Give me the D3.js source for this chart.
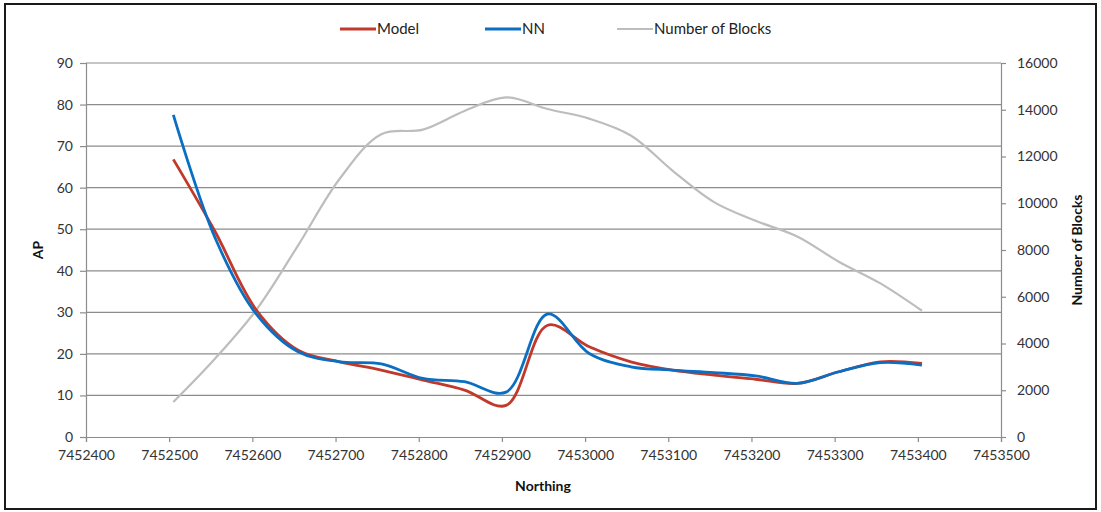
<!DOCTYPE html>
<html><head><meta charset="utf-8">
<script src="https://cdn.jsdelivr.net/npm/d3@7"></script>
<style>
html,body{margin:0;padding:0;background:#fff;}
svg text{font-family:Lato,"Open Sans",sans-serif;}
</style></head>
<body><svg id="chart" width="1101" height="512"></svg>
<script>
const northing = [7452505,7452555,7452605,7452655,7452705,7452755,7452805,7452855,7452905,7452955,7453005,7453055,7453105,7453155,7453205,7453255,7453305,7453355,7453405];
const modelAP = [66.8,49.5,30.5,20.9,18.1,16.1,13.7,11.3,7.6,26.9,21.7,18.1,16.1,14.9,13.9,12.9,15.7,18.1,17.7];
const nnAP    = [77.5,48.0,29.5,20.5,18.1,17.6,14.1,13.3,10.8,29.6,20.1,16.9,16.1,15.5,14.7,12.9,15.7,17.9,17.3];
const blocks  = [1500,3350,5450,8200,11050,12950,13150,13950,14530,14030,13620,12900,11400,10050,9250,8580,7500,6570,5400];
const xTicks = [7452400,7452500,7452600,7452700,7452800,7452900,7453000,7453100,7453200,7453300,7453400,7453500];
const apTicks = [0,10,20,30,40,50,60,70,80,90];
const blockTicks = [0,2000,4000,6000,8000,10000,12000,14000,16000];
const seriesNames = ["Model","NN","Number of Blocks"];
const seriesColors = ["#c0392b","#0a6fc2","#bdbdbd"];

const svg = d3.select("#chart");
const L = 86, R = 1001, T = 63, B = 437;
const x = d3.scaleLinear().domain([7452400,7453500]).range([L,R]);
const yL = d3.scaleLinear().domain([0,90]).range([B,T]);
const yR = d3.scaleLinear().domain([0,16000]).range([B,T]);

// outer border
svg.append("rect").attr("x",5).attr("y",4).attr("width",1091).attr("height",505)
  .attr("fill","#fff").attr("stroke","#1a1a1a").attr("stroke-width",2);

// gridlines
svg.append("g").selectAll("line").data(apTicks.filter(d=>d>0)).join("line")
  .attr("x1",L).attr("x2",R).attr("y1",d=>yL(d)).attr("y2",d=>yL(d))
  .attr("stroke","#8c8c8c").attr("stroke-width",1.2);

const tickColor = "#8c8c8c";
const labelColor = "#333";
// axes
const gx = svg.append("g").attr("transform",`translate(0,${B})`)
  .call(d3.axisBottom(x).tickValues(xTicks).tickFormat(d3.format("d")).tickSize(5).tickPadding(5));
const gl = svg.append("g").attr("transform",`translate(${L},0)`)
  .call(d3.axisLeft(yL).tickValues(apTicks).tickFormat(d3.format("d")).tickSize(6).tickPadding(7));
const gr = svg.append("g").attr("transform",`translate(${R},0)`)
  .call(d3.axisRight(yR).tickValues(blockTicks).tickFormat(d3.format("d")).tickSize(5).tickPadding(11));
[gx,gl,gr].forEach(g=>{
  g.selectAll("path").attr("stroke",tickColor).attr("stroke-width",1.2);
  g.selectAll("line").attr("stroke",tickColor).attr("stroke-width",1.2);
  g.selectAll("text").attr("fill",labelColor).style("font-size","14px").style("font-family","Lato,sans-serif");
});
gx.selectAll("text").attr("dy","0.9em");

// axis titles
svg.append("text").attr("x",543).attr("y",491).attr("text-anchor","middle")
  .style("font-size","14px").style("font-weight","bold").attr("fill","#111").text("Northing");
svg.append("text").attr("transform","translate(43,250) rotate(-90)").attr("text-anchor","middle")
  .style("font-size","14px").style("font-weight","bold").attr("fill","#111").text("AP");
svg.append("text").attr("transform","translate(1082,250) rotate(-90)").attr("text-anchor","middle")
  .style("font-size","14px").style("font-weight","bold").attr("fill","#111").text("Number of Blocks");

// lines
const curve = d3.curveCatmullRom.alpha(0.5);
const lineL = d3.line().x((d,i)=>x(northing[i])).y(d=>yL(d)).curve(curve);
const lineR = d3.line().x((d,i)=>x(northing[i])).y(d=>yR(d)).curve(curve);
svg.append("path").attr("d",lineR(blocks)).attr("fill","none").attr("stroke",seriesColors[2]).attr("stroke-width",2.2);
svg.append("path").attr("d",lineL(modelAP)).attr("fill","none").attr("stroke",seriesColors[0]).attr("stroke-width",2.8);
svg.append("path").attr("d",lineL(nnAP)).attr("fill","none").attr("stroke",seriesColors[1]).attr("stroke-width",2.8);

// legend
const legX = [340,485,617];
const lg = svg.append("g");
seriesNames.forEach((n,i)=>{
  lg.append("line").attr("x1",legX[i]).attr("x2",legX[i]+36).attr("y1",29).attr("y2",29)
    .attr("stroke",seriesColors[i]).attr("stroke-width",i==2?2:2.8);
  lg.append("text").attr("x",legX[i]+37).attr("y",29).attr("dy","0.35em")
    .style("font-size","15px").attr("fill","#222").text(n);
});
</script></body></html>
